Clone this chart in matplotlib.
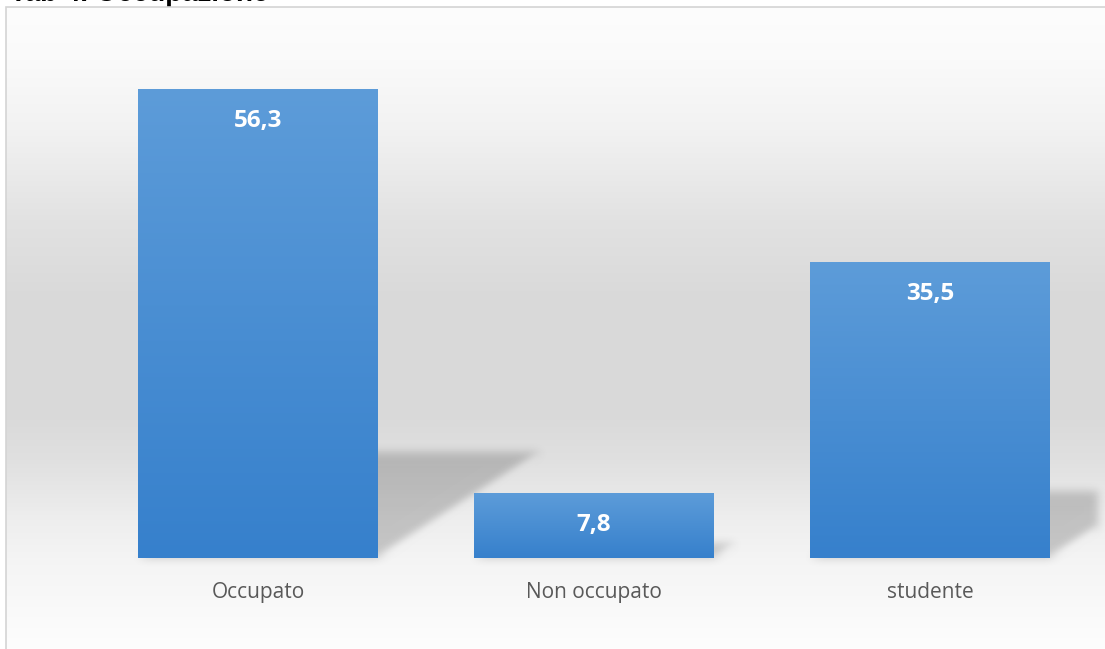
import numpy as np
import matplotlib
matplotlib.use("Agg")
import matplotlib.pyplot as plt
from matplotlib.patches import Rectangle, Polygon
from matplotlib.colors import LinearSegmentedColormap

# Data
categories = ["Occupato", "Non occupato", "studente"]
values = [56.3, 7.8, 35.5]
value_labels = ["56,3", "7,8", "35,5"]
title = "Tab 4. Occupazione"

W, H, DPI = 1105, 649, 100
fig = plt.figure(figsize=(W / DPI, H / DPI), dpi=DPI)
fig.patch.set_facecolor("white")

# Chart area background: soft vertical grey gradient inside a thin frame
frame_l, frame_b = 6 / W, 0.0
frame_r, frame_t = 1.0, 1 - 7 / H
bg_ax = fig.add_axes([frame_l, frame_b, frame_r - frame_l, frame_t - frame_b])
bg_ax.set_axis_off()
stops_y = np.array([7, 60, 130, 220, 300, 420, 460, 520, 565, 649])
stops_v = np.array([253, 250, 242, 226, 217, 218, 224, 238, 245, 253]) / 255
rows = np.arange(7, 650)
col = np.interp(rows, stops_y, stops_v)
grad = np.repeat(col[:, None], 3, axis=1)[:, None, :]
bg_ax.imshow(grad, aspect="auto", extent=[0, 1, 0, 1], interpolation="bilinear")
bg_ax.set_xlim(0, 1)
bg_ax.set_ylim(0, 1)
fig.patches.append(Rectangle((frame_l, -0.01), 1.0, frame_t + 0.01,
                             transform=fig.transFigure, fill=False,
                             edgecolor="#d4d4d4", linewidth=1.2, zorder=5))

# Title, running off the top edge of the image
fig.text(10 / W, 1 - 1 / H, title, fontsize=20, fontweight="bold",
         family="Liberation Sans", color="black", ha="left", va="baseline")

# Plot area
ax_l, ax_r = 90 / W, 1098 / W
ax_b, ax_t = 91 / H, (H - 58) / H
ax = fig.add_axes([ax_l, ax_b, ax_r - ax_l, ax_t - ax_b])
ax.set_facecolor("none")
ax.set_xlim(-0.5, 2.5)
ax.set_ylim(0, 60)
for s in ax.spines.values():
    s.set_visible(False)
ax.set_yticks([])
ax.set_xticks(range(len(categories)))
ax.set_xticklabels(categories, fontsize=15, color="#595959", family="Open Sans")
ax.tick_params(axis="x", length=0, pad=17)

x = np.arange(len(categories))
bar_w = 0.714
bars = ax.bar(x, values, width=bar_w, color="none", edgecolor="none", zorder=3)


class GaussianBlur:
    def __init__(self, sigma):
        self.sigma = sigma

    def __call__(self, im, dpi):
        sig = self.sigma * dpi / 100.0
        pad = int(np.ceil(3 * sig))
        src = np.pad(im, [(pad, pad), (pad, pad), (0, 0)], "constant")
        k = np.exp(-0.5 * (np.arange(-pad, pad + 1) / sig) ** 2)
        k /= k.sum()
        n = len(k)
        tmp = np.pad(src, [(0, 0), (pad, pad), (0, 0)], "constant")
        out = np.zeros_like(src)
        for i in range(n):
            out += k[i] * tmp[:, i:i + src.shape[1], :]
        tmp = np.pad(out, [(pad, pad), (0, 0), (0, 0)], "constant")
        out2 = np.zeros_like(src)
        for i in range(n):
            out2 += k[i] * tmp[i:i + src.shape[0], :, :]
        return out2, -pad, -pad


# Perspective shadows cast to the upper right of each bar
skew_x, squash_y = 0.35, 0.226
for b in bars:
    x0, x1 = b.get_x(), b.get_x() + b.get_width()
    h = b.get_height()
    corners = ax.transData.transform([(x0, 0), (x1, 0), (x1, h), (x0, h)])
    base_y = corners[0, 1]
    pts = []
    for px, py in corners:
        dy = py - base_y
        pts.append((px + skew_x * dy, base_y + squash_y * dy))
    shadow = Polygon(pts, closed=True, transform=None,
                     facecolor=(0, 0, 0, 0.19), edgecolor="none", zorder=1)
    shadow.set_agg_filter(GaussianBlur(4.5))
    shadow.set_clip_path(ax.patch)
    ax.add_artist(shadow)

# Bars filled with a light-to-dark blue gradient
bar_cmap = LinearSegmentedColormap.from_list("barblue", ["#3680cc", "#5d9cd9"])
ramp = np.linspace(0, 1, 256)[:, None]
for b in bars:
    x0, x1 = b.get_x(), b.get_x() + b.get_width()
    h = b.get_height()
    im = ax.imshow(ramp, cmap=bar_cmap, aspect="auto", origin="lower",
                   extent=[x0, x1, 0, h], zorder=2, interpolation="bilinear")
    im.set_clip_path(b)

ax.set_xlim(-0.5, 2.5)
ax.set_ylim(0, 60)

# Value labels inside the top of each bar
for xi, v, lab in zip(x, values, value_labels):
    ax.annotate(lab, (xi, v), xytext=(0, -23), textcoords="offset points",
                ha="center", va="center", fontsize=17.5, fontweight="bold",
                color="white", family="Open Sans", zorder=4)

fig.savefig("out.png", dpi=DPI)
